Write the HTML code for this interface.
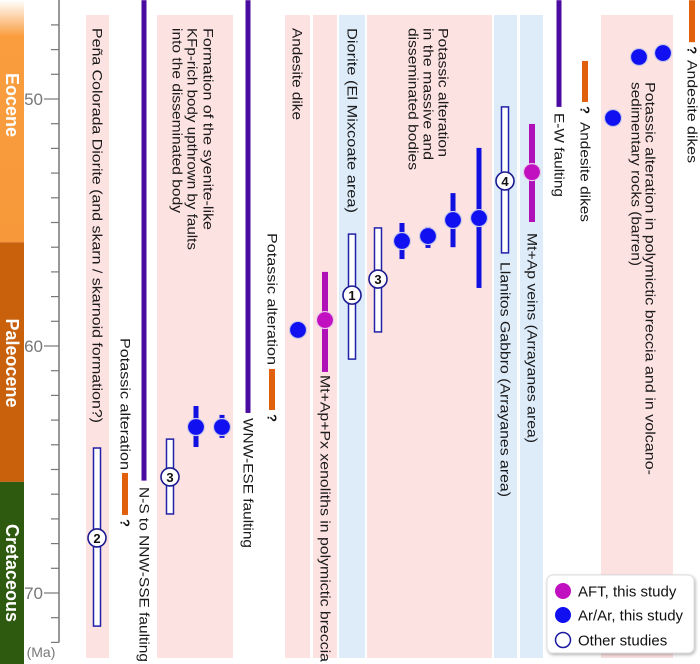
<!DOCTYPE html>
<html><head><meta charset="utf-8">
<style>
html,body{margin:0;padding:0;background:#fff;}
svg{display:block;font-family:"Liberation Sans",sans-serif;}
</style></head>
<body>
<svg id="chart" width="700" height="664" viewBox="0 0 700 664" xmlns="http://www.w3.org/2000/svg">
<defs>
<linearGradient id="eoGrad" x1="0" y1="0" x2="0" y2="1">
<stop offset="0" stop-color="#ffffff"/><stop offset="0.15" stop-color="#f99d3e"/><stop offset="1" stop-color="#f7993a"/>
</linearGradient>
<filter id="sh" x="-10%" y="-10%" width="130%" height="130%"><feDropShadow dx="1" dy="1.5" stdDeviation="1.5" flood-color="#000" flood-opacity="0.3"/></filter>
</defs>
<g id="bands"></g>
<g id="axis"></g>
<g id="marks"></g>
<g id="labels"></g>
<g id="legend" filter="url(#sh)">
<rect x="547" y="575" width="147" height="78" rx="6" fill="#fff" stroke="#ddd"/>
</g>
<g>
<g><circle cx="563" cy="591" r="8" fill="#c010c0"/><text x="578" y="596.5" font-size="15" fill="#111">AFT, this study</text></g>
<g><circle cx="563" cy="615" r="8" fill="#1010f0"/><text x="578" y="620.5" font-size="15" fill="#111">Ar/Ar, this study</text></g>
<g><circle cx="563" cy="640" r="7.5" fill="#fff" stroke="#1a1aa0" stroke-width="1.5"/><text x="578" y="645.5" font-size="15" fill="#111">Other studies</text></g>
</g>
</svg>
<script>
// ---- data (ages in Ma) ----
const epochNames = ["Eocene","Paleocene","Cretaceous"];
const epochStart = [46, 55.8, 65.5];
const epochEnd = [55.8, 65.5, 72.9];
const tickValues = [47,48,49,50,51,52,53,54,55,56,57,58,59,60,61,62,63,64,65,66,67,68,69,70,71,72];
const tickLabels = ["50","60","70"];
const tickLabelValues = [50,60,70];

const arArAges = [59.35, 63.28, 63.28, 55.75, 55.55, 54.90, 54.82, 48.14, 48.30, 50.77];
const arArLow  = [59.35, 62.43, 62.79, 55.02, 55.18, 53.81, 51.98, 48.14, 48.30, 50.77];
const arArHigh = [59.35, 64.09, 63.72, 56.48, 56.03, 56.00, 57.65, 48.14, 48.30, 50.77];
const aftAges = [58.95, 52.96];
const aftLow  = [57.00, 51.01];
const aftHigh = [61.05, 54.98];
const otherIds  = ["1","2","3","3","4"];
const otherAges = [57.94, 67.77, 57.29, 65.30, 53.32];
const otherLow  = [55.47, 64.13, 55.22, 63.77, 50.32];
const otherHigh = [60.53, 71.34, 59.43, 66.80, 56.23];
const alterStart = [46.0, 48.46, 60.93, 65.14];
const alterEnd   = [47.7, 50.12, 62.59, 66.84];
const faultNames = ["N-S to NNW-SSE faulting","WNW-ESE faulting","E-W faulting"];
const faultStart = [46.0, 46.0, 46.0];
const faultEnd   = [65.45, 62.71, 50.32];

// ---- layout (pixel columns, not data) ----
const arArCol = [298,196,222,402,428,453,479,663,639,613];
const aftCol = [325,532];
const otherCol = [352,97,378,170,505];
const alterCol = [692,585,272,125];
const faultCol = [144,248,559];
const epochLabelCenter = [105, 363, 573];

const NS="http://www.w3.org/2000/svg";
const Y = v => 346 + 24.7*(v-60);
function mk(tag, attrs, parent){const e=document.createElementNS(NS,tag);for(const k in attrs)e.setAttribute(k,attrs[k]);parent.appendChild(e);return e;}
const gB=document.getElementById('bands'), gA=document.getElementById('axis'), gM=document.getElementById('marks'), gL=document.getElementById('labels');

const pinkBands=[[86,109],[157,233],[285,310],[313,337],[367,492],[601,673]];
const blueBands=[[339,365],[494,517],[520,543]];
pinkBands.forEach(b=>{const r=mk('rect',{x:b[0],y:15,width:b[1]-b[0],height:643,fill:'#fde2e2'},gB);

});
blueBands.forEach(b=>{const r=mk('rect',{x:b[0],y:15,width:b[1]-b[0],height:643,fill:'#deebf9'},gB);

});

const epochCols=['url(#eoGrad)','#c8600c','#2e5a10'];
epochNames.forEach((n,i)=>{
 const y0=Math.max(0,Y(epochStart[i])), y1=Math.min(664,Y(epochEnd[i]));
 const r=mk('rect',{x:0,y:y0,width:24,height:y1-y0,fill:epochCols[i]},gA);
 
 
 const t=mk('text',{transform:`translate(12,${epochLabelCenter[i]}) rotate(90)`,'text-anchor':'middle','dominant-baseline':'central','font-size':18,'font-weight':'bold',fill:'#fff'},gA);
 t.textContent=n;
 
 
});
const ax=mk('line',{x1:59,y1:0,x2:59,y2:Y(72),stroke:'#777','stroke-width':1.5},gA);


tickValues.forEach(v=>{const major=tickLabelValues.includes(v);
 const l=mk('line',{x1:major?44:51,y1:Y(v),x2:59,y2:Y(v),stroke:'#777','stroke-width':1.2},gA);
 
 });
tickLabels.forEach((s,i)=>{const t=mk('text',{x:43,y:Y(tickLabelValues[i])+6,'text-anchor':'end','font-size':17,fill:'#777'},gA);t.textContent=s;
 
 });
const ma=mk('text',{x:41,y:657,'text-anchor':'middle','font-size':14,fill:'#777'},gA);ma.textContent='(Ma)';



faultNames.forEach((n,i)=>{const r=mk('rect',{x:faultCol[i]-2.5,y:Y(faultStart[i]),width:5,height:Y(faultEnd[i])-Y(faultStart[i]),fill:'#4b0aa0'},gM);
 
 });
alterStart.forEach((s,i)=>{const r=mk('rect',{x:alterCol[i]-3,y:Y(s),width:6,height:Y(alterEnd[i])-Y(s),fill:'#e0600c'},gM);
 
 
 const q=mk('text',{transform:`translate(${alterCol[i]},${Y(alterEnd[i])+8}) rotate(90)`,'text-anchor':'middle','dominant-baseline':'central','font-size':13,'font-weight':'bold',fill:'#111'},gM);q.textContent='?';
 
 });
otherAges.forEach((a,i)=>{const x=otherCol[i];
 const r=mk('rect',{x:x-3.5,y:Y(otherLow[i]),width:7,height:Y(otherHigh[i])-Y(otherLow[i]),fill:'#fff',stroke:'#2020a8','stroke-width':1.5},gM);
 
 
 const c=mk('circle',{cx:x,cy:Y(a),r:9,fill:'#fff',stroke:'#1a1a90','stroke-width':1.6},gM);
 
 
 const t=mk('text',{x:x,y:Y(a)+5,'text-anchor':'middle','font-size':13,'font-weight':'bold',fill:'#111'},gM);t.textContent=otherIds[i];
 
 });
arArAges.forEach((a,i)=>{const x=arArCol[i];
 if(arArHigh[i]>arArLow[i]){const r=mk('rect',{x:x-2.5,y:Y(arArLow[i]),width:5,height:Y(arArHigh[i])-Y(arArLow[i]),fill:'#1010e0'},gM);
  
  }
 const c=mk('circle',{cx:x,cy:Y(a),r:8.5,fill:'#1010f0',stroke:'#c8c8e8','stroke-width':1.2},gM);
 
 });
aftAges.forEach((a,i)=>{const x=aftCol[i];
 const r=mk('rect',{x:x-3,y:Y(aftLow[i]),width:6,height:Y(aftHigh[i])-Y(aftLow[i]),fill:'#b010b8'},gM);
 
 
 const c=mk('circle',{cx:x,cy:Y(a),r:8.5,fill:'#c010c0',stroke:'#e8c8e8','stroke-width':1.2},gM);
 
 });

const labels=[
 ["Peña Colorada Diorite (and skarn / skarnoid formation?)",97,28,423],
 ["N-S to NNW-SSE faulting",144,487,662],
 ["Potassic alteration",125,338,470],
 ["Formation of the syenite-like",208,28,230],
 ["KFp-rich body upthrown by faults",192,28,250],
 ["into the disseminated body",177,28,213],
 ["WNW-ESE faulting",248,418,548],
 ["Potassic alteration",272,233,365],
 ["Andesite dike",297,28,120],
 ["Mt+Ap+Px xenoliths in polymictic breccia",325,375,662],
 ["Diorite (El Mixcoate area)",352,28,213],
 ["Potassic alteration",443,28,157],
 ["in the massive and",428,28,160],
 ["disseminated bodies",413,28,170],
 ["Llanitos Gabbro (Arrayanes area)",505,262,497],
 ["Mt+Ap veins (Arrayanes area)",532,233,443],
 ["E-W faulting",559,113,197],
 ["Andesite dikes",585,122,222],
 ["Potassic alteration in polymictic breccia and in volcano-",650,82,475],
 ["sedimentary rocks (barren)",636,82,266],
 ["Andesite dikes",692,60,163]
];
labels.forEach(l=>{const t=mk('text',{transform:`translate(${l[1]},${l[2]}) rotate(90)`,'dominant-baseline':'central','font-size':13.5,fill:'#1a1a1a',textLength:l[3]-l[2],lengthAdjust:'spacingAndGlyphs'},gL);
 t.textContent=l[0];
 
 });
</script>
</body></html>
